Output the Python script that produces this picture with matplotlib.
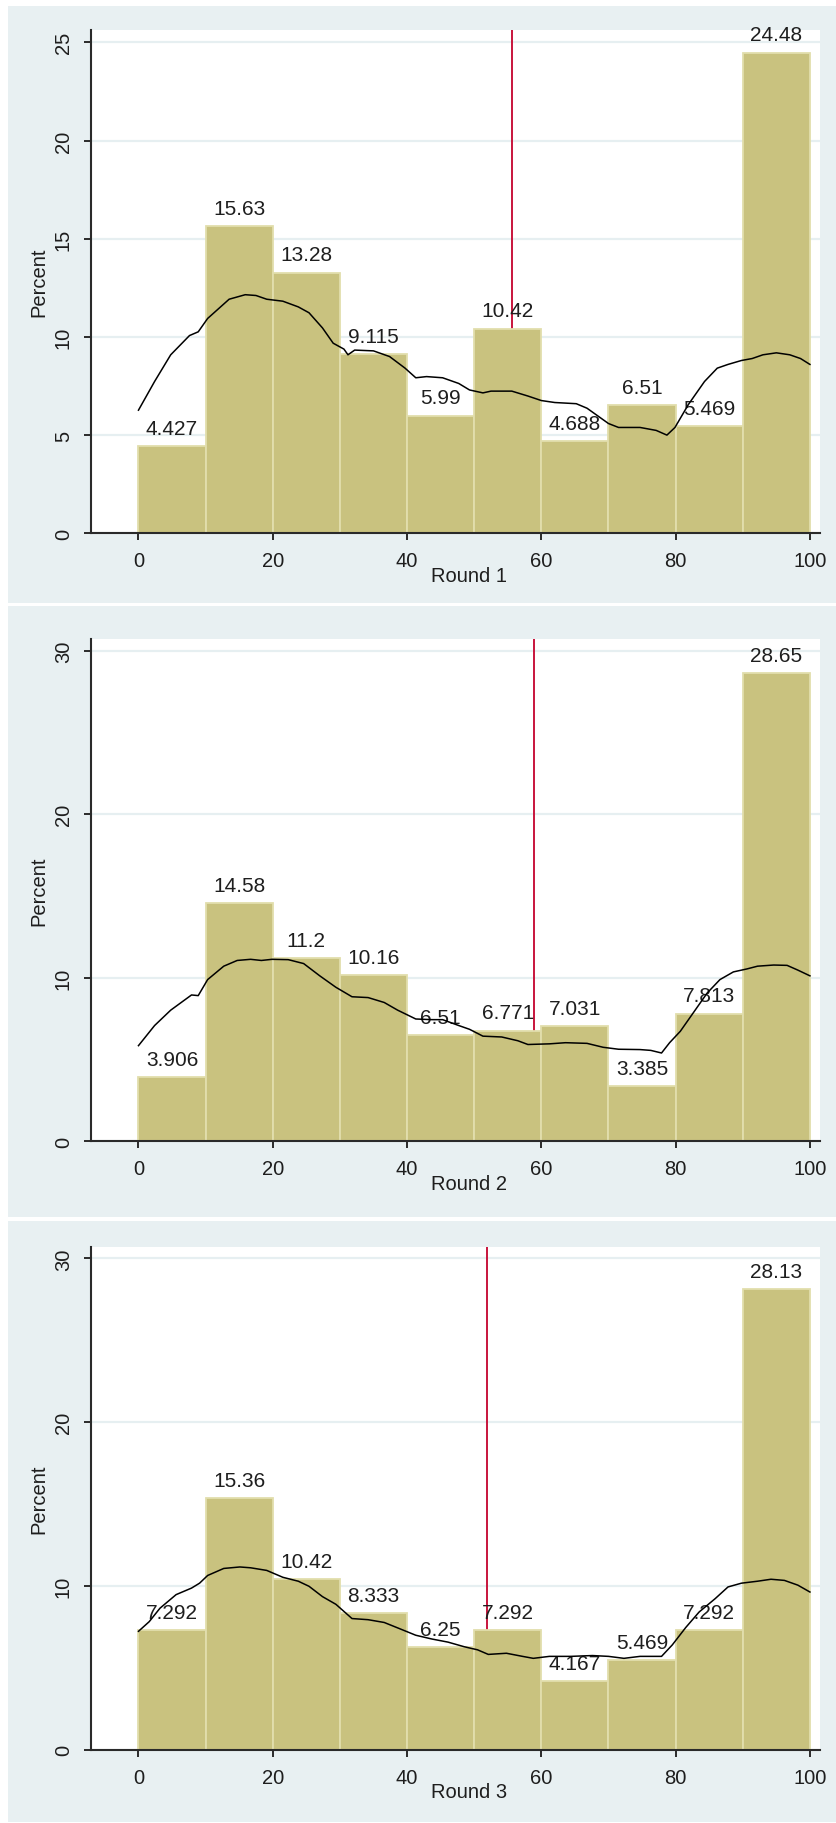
import matplotlib
matplotlib.use("Agg")
import matplotlib.pyplot as plt
from matplotlib.patches import Rectangle

plt.rcParams['font.family'] = ['Liberation Sans', 'DejaVu Sans']

# ---- data ---------------------------------------------------------------
bin_left = [0, 10, 20, 30, 40, 50, 60, 70, 80, 90]
bin_width = 10

round_titles = ["Round 1", "Round 2", "Round 3"]

pct_round1 = [4.427, 15.63, 13.28, 9.115, 5.99, 10.42, 4.688, 6.51, 5.469, 24.48]
pct_round2 = [3.906, 14.58, 11.2, 10.16, 6.51, 6.771, 7.031, 3.385, 7.813, 28.65]
pct_round3 = [7.292, 15.36, 10.42, 8.333, 6.25, 7.292, 4.167, 5.469, 7.292, 28.13]

mean_round1 = 55.6
mean_round2 = 58.9
mean_round3 = 51.9

# kernel density, rescaled to percent per bin
kde_x1 = [0, 2.4, 4.8, 7.6, 8.9, 10.3, 13.5, 15.9, 17.5, 19.1, 21.5, 23.8, 25.4, 27.4,
          29.0, 30.6, 31.2, 32.2, 35.0, 37.4, 39.7, 41.3, 42.9, 45.3, 47.7, 49.3, 51.3,
          52.5, 55.6, 58.0, 60.0, 62.0, 65.2, 66.8, 68.4, 70.0, 71.5, 74.7, 77.1, 78.7,
          79.9, 81.9, 84.3, 86.2, 87.8, 89.8, 91.4, 93.0, 95.0, 97.0, 98.6, 100]
kde_y1 = [6.27, 7.73, 9.09, 10.07, 10.26, 10.94, 11.92, 12.15, 12.11, 11.92, 11.82, 11.53,
          11.23, 10.46, 9.68, 9.38, 9.09, 9.33, 9.29, 9.0, 8.41, 7.92, 7.98, 7.92, 7.63,
          7.3, 7.15, 7.24, 7.24, 6.99, 6.76, 6.66, 6.6, 6.37, 5.98, 5.59, 5.39, 5.39, 5.24,
          5.0, 5.39, 6.56, 7.73, 8.41, 8.6, 8.8, 8.9, 9.09, 9.19, 9.09, 8.9, 8.6]

kde_x2 = [0, 2.4, 4.8, 7.9, 8.9, 10.3, 12.7, 14.7, 16.7, 18.3, 19.9, 22.3, 24.6, 27.0,
          29.4, 31.8, 34.2, 36.6, 38.6, 41.3, 43.7, 45.3, 47.7, 49.3, 51.3, 54.1, 56.5,
          58.0, 61.2, 63.6, 66.8, 69.2, 71.5, 74.7, 76.3, 77.9, 79.1, 80.7, 82.7, 84.7,
          86.6, 88.6, 90.6, 92.2, 94.6, 96.6, 98.2, 100]
kde_y2 = [5.85, 7.08, 8.02, 8.95, 8.91, 9.89, 10.71, 11.06, 11.13, 11.06, 11.13, 11.11,
          10.87, 10.12, 9.42, 8.84, 8.79, 8.49, 8.02, 7.48, 7.44, 7.44, 7.08, 6.85, 6.43,
          6.38, 6.15, 5.92, 5.96, 6.03, 5.99, 5.75, 5.63, 5.61, 5.56, 5.4, 6.03, 6.73,
          7.9, 9.07, 9.89, 10.36, 10.54, 10.71, 10.78, 10.76, 10.47, 10.12]

kde_x3 = [0, 1.6, 3.2, 5.6, 7.9, 9.1, 10.3, 12.7, 15.1, 16.7, 19.1, 21.5, 23.8, 25.4,
          27.4, 29.4, 31.8, 34.2, 36.6, 38.9, 41.3, 43.7, 46.1, 48.5, 50.5, 52.1, 54.8,
          57.2, 58.8, 61.2, 64.4, 67.6, 70.0, 72.3, 74.7, 77.9, 79.5, 81.5, 83.5, 85.9,
          87.8, 89.8, 92.2, 94.2, 96.2, 98.2, 100]
kde_y3 = [7.23, 7.82, 8.64, 9.47, 9.87, 10.17, 10.64, 11.07, 11.16, 11.11, 10.95, 10.53,
          10.29, 9.98, 9.35, 8.88, 8.01, 7.94, 7.77, 7.39, 6.99, 6.76, 6.57, 6.29, 6.1,
          5.82, 5.89, 5.7, 5.58, 5.7, 5.7, 5.75, 5.7, 5.58, 5.7, 5.7, 6.4, 7.46, 8.41,
          9.23, 9.94, 10.17, 10.29, 10.41, 10.34, 10.05, 9.63]

yticks_round1 = [0, 5, 10, 15, 20, 25]
yticks_round23 = [0, 10, 20, 30]
xticks = [0, 20, 40, 60, 80, 100]

# ---- styling / layout (pixels) -----------------------------------------
W, H = 836, 1824
BG = '#e8f0f2'
BAR = '#c9c27f'
BAR_EDGE = '#e2dead'
GRID = '#e6eff1'
AXIS = '#2a2a2a'
MEAN_LINE = '#c8143c'
TEXT = '#1e1e1e'

panels = [
    dict(pct=pct_round1, mean=mean_round1, kx=kde_x1, ky=kde_y1, title=round_titles[0],
         yticks=yticks_round1, ymax=25.63, bg=(7, 604), box=(31, 534.3)),
    dict(pct=pct_round2, mean=mean_round2, kx=kde_x2, ky=kde_y2, title=round_titles[1],
         yticks=yticks_round23, ymax=30.72, bg=(607, 1218), box=(640, 1142.3)),
    dict(pct=pct_round3, mean=mean_round3, kx=kde_x3, ky=kde_y3, title=round_titles[2],
         yticks=yticks_round23, ymax=30.72, bg=(1222, 1823), box=(1247.7, 1750.7)),
]

fig = plt.figure(figsize=(W / 100, H / 100), dpi=100)
fig.patch.set_facecolor('white')

AX_LEFT, AX_RIGHT = 91, 820
BG_LEFT = 8

for p in panels:
    y0, y1 = p['bg']
    fig.patches.append(Rectangle((BG_LEFT / W, 1 - y1 / H), (W - BG_LEFT) / W, (y1 - y0) / H,
                                 transform=fig.transFigure, facecolor=BG,
                                 edgecolor='none', zorder=-10))

    top, bottom = p['box']
    ax = fig.add_axes([AX_LEFT / W, 1 - bottom / H, (AX_RIGHT - AX_LEFT) / W, (bottom - top) / H])
    ax.set_zorder(1)
    ax.set_facecolor('white')

    # mean line sits behind the bars
    ax.axvline(p['mean'], color=MEAN_LINE, lw=1.4, zorder=1)

    ax.bar(bin_left, p['pct'], width=bin_width, align='edge', color=BAR,
           edgecolor=BAR_EDGE, linewidth=1.3, zorder=2)

    for left, v in zip(bin_left, p['pct']):
        ax.annotate(f'{v:.4g}', (left + bin_width / 2, v), xytext=(0, 6),
                    textcoords='offset points', ha='center', va='bottom',
                    fontsize=15, color=TEXT, zorder=3)

    ax.plot(p['kx'], p['ky'], color='black', lw=1.1, zorder=4)

    ax.set_xlim(-7.07, 101.5)
    ax.set_ylim(0, p['ymax'])
    ax.set_xticks(xticks)
    ax.set_yticks(p['yticks'])

    ax.yaxis.grid(True, color=GRID, linewidth=1.6, zorder=0)
    ax.set_axisbelow(True)

    for side in ('top', 'right'):
        ax.spines[side].set_visible(False)
    for side in ('left', 'bottom'):
        ax.spines[side].set_color(AXIS)
        ax.spines[side].set_linewidth(1.5)

    ax.tick_params(axis='both', direction='out', length=5, width=1.4, color=AXIS,
                   labelsize=14.5, labelcolor=TEXT, pad=8)
    ax.tick_params(axis='y', labelrotation=90)
    for lab in ax.get_yticklabels():
        lab.set_va('center')

    ax.set_ylabel('Percent', fontsize=14.5, color=TEXT, labelpad=4)
    ax.set_xlabel(p['title'], fontsize=14.5, color=TEXT, labelpad=3)
    ax.xaxis.set_label_coords(0.518, -0.065)

fig.savefig('out.png', dpi=100, facecolor='white')
